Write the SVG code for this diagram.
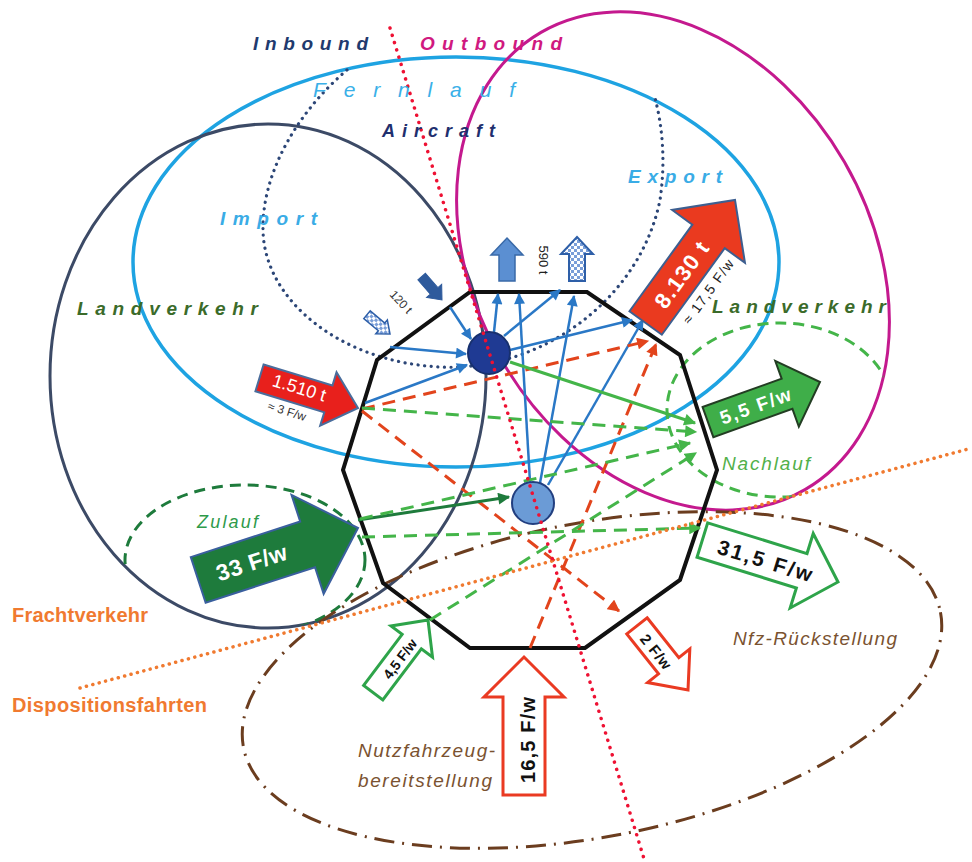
<svg xmlns="http://www.w3.org/2000/svg" width="972" height="862" viewBox="0 0 972 862">
<style>
text{font-family:"Liberation Sans",Arial,sans-serif}
.lbl{font-weight:bold;font-style:italic}
.it{font-style:italic}
.ctr{text-anchor:middle;dominant-baseline:central}
.blue{stroke:#2a78c6;stroke-width:2.5;fill:none;marker-end:url(#mb)}
.rd{stroke:#e2441c;stroke-width:3;stroke-dasharray:13 8;fill:none;marker-end:url(#mr)}
.gd{stroke:#44b549;stroke-width:3;stroke-dasharray:13 8;fill:none;marker-end:url(#mg)}
.el{fill:none}
</style>
<defs>
<marker id="mb" viewBox="0 0 10 10" refX="9" refY="5" markerWidth="12" markerHeight="11" markerUnits="userSpaceOnUse" orient="auto"><path d="M0,0L10,5L0,10z" fill="#2a78c6"/></marker>
<marker id="mr" viewBox="0 0 10 10" refX="9" refY="5" markerWidth="13" markerHeight="12" markerUnits="userSpaceOnUse" orient="auto"><path d="M0,0L10,5L0,10z" fill="#e2441c"/></marker>
<marker id="mg" viewBox="0 0 10 10" refX="9" refY="5" markerWidth="13" markerHeight="12" markerUnits="userSpaceOnUse" orient="auto"><path d="M0,0L10,5L0,10z" fill="#44b549"/></marker>
<marker id="mdg" viewBox="0 0 10 10" refX="9" refY="5" markerWidth="13" markerHeight="12" markerUnits="userSpaceOnUse" orient="auto"><path d="M0,0L10,5L0,10z" fill="#1e7b3c"/></marker>
<pattern id="chk" width="6" height="6" patternUnits="userSpaceOnUse"><rect width="6" height="6" fill="#fff"/><rect width="3" height="3" fill="#7a9ed8"/><rect x="3" y="3" width="3" height="3" fill="#7a9ed8"/></pattern>
<clipPath id="cLand"><ellipse cx="268" cy="376" rx="218" ry="252"/></clipPath>
<clipPath id="cMag"><ellipse cx="673" cy="261" rx="198" ry="264" transform="rotate(-30 673 261)"/></clipPath>
</defs>

<g id="regions">
<ellipse id="fernlauf" class="el" cx="456" cy="262" rx="323" ry="205" stroke="#1ea3e2" stroke-width="3.5"/>
<ellipse id="landverkehr-left" class="el" cx="268" cy="376" rx="218" ry="252" stroke="#3c4a66" stroke-width="3"/>
<ellipse id="outbound" class="el" cx="673" cy="261" rx="198" ry="264" transform="rotate(-30 673 261)" stroke="#c4198e" stroke-width="3"/>
<path id="aircraft" class="el" d="M347,70 C300,110 262,170 263,230 C264,300 340,362 440,367 C540,372 640,300 660,200 C666,160 662,125 655,98" stroke="#2c4677" stroke-width="3.2" stroke-dasharray="0.1 6.5" stroke-linecap="round"/>
<ellipse id="zulauf" class="el" cx="245" cy="560" rx="120" ry="75" clip-path="url(#cLand)" stroke="#1e7b3c" stroke-width="3" stroke-dasharray="11 7"/>
<ellipse id="nachlauf" class="el" cx="780" cy="410" rx="113" ry="87" clip-path="url(#cMag)" stroke="#44b549" stroke-width="3" stroke-dasharray="11 7"/>
<ellipse id="nfz" class="el" cx="592" cy="680" rx="355" ry="157" transform="rotate(-11 592 680)" stroke="#6b3d1f" stroke-width="3" stroke-dasharray="20 8 2 8"/>
</g>

<g id="terminal">
<polygon points="470,292 587,292 680,355 717,470 680,580 585,648 470,648 383,583 343,470 377,360" fill="none" stroke="#111" stroke-width="4" stroke-linejoin="miter"/>
</g>

<g id="connectors">
<path class="blue" d="M450,307 L471,339"/>
<path class="blue" d="M390,347 L466,354"/>
<path class="blue" d="M365,403 L467,365"/>
<path class="blue" d="M494,332 L498,294"/>
<path class="blue" d="M504,336 L560,290"/>
<path class="blue" d="M510,350 L632,320"/>
<path class="blue" d="M530,482 L519,294"/>
<path class="blue" d="M540,483 L574,296"/>
<path class="blue" d="M548,485 L643,320"/>
<path class="rd" d="M362,409 L648,341"/>
<path class="rd" d="M362,411 L619,611"/>
<path class="rd" d="M530,648 L656,344"/>
<path d="M510,362 L695,423" stroke="#44b549" stroke-width="3" fill="none" marker-end="url(#mg)"/>
<path d="M358,520 L509,497" stroke="#1e7b3c" stroke-width="3" fill="none" marker-end="url(#mdg)"/>
<path class="gd" d="M362,408 L696,432"/>
<path class="gd" d="M360,519 L690,443"/>
<path class="gd" d="M430,620 L696,453"/>
<path class="gd" d="M362,537 L700,528"/>
</g>

<g id="node-aircraft-hub"><circle cx="489" cy="353" r="21" fill="#1f3a93" stroke="#17306e" stroke-width="2"/></g>
<g id="node-truck-hub"><circle cx="533" cy="503" r="21" fill="#6b9bd6" stroke="#223f80" stroke-width="2"/></g>

<g id="boundaries">
<line x1="80" y1="688" x2="972" y2="448" stroke="#f07a30" stroke-width="3.5" stroke-dasharray="0.1 6.5" stroke-linecap="round"/>
<line x1="390" y1="28" x2="645" y2="862" stroke="#ee1133" stroke-width="3.5" stroke-dasharray="0.1 7.5" stroke-linecap="round"/>
</g>

<g id="arrow-1510" transform="translate(358,408) rotate(17)">
<polygon points="-103,-14 -31,-14 -31,-28 0,0 -31,28 -31,14 -103,14" fill="#e8201c" stroke="#4a6d9c" stroke-width="2"/>
<text class="ctr" x="-62" y="-2" font-size="18" fill="#fff">1.510 t</text>
<text class="ctr" x="-67" y="24" font-size="12" fill="#333">≈ 3 F/w</text>
</g>
<g id="arrow-8130" transform="translate(735,200) rotate(-54)">
<polygon points="-152,-20 -45,-20 -45,-45 0,0 -45,45 -45,20 -152,20" fill="#ea3a1f" stroke="#3d5f90" stroke-width="2"/>
<text class="ctr" x="-92" y="1" font-size="22" font-weight="bold" fill="#fff" textLength="76">8.130 t</text>
<text class="ctr" x="-90" y="32" font-size="14" fill="#222" textLength="76">≈ 17,5 F/w</text>
</g>
<g id="arrow-55" transform="translate(820,382) rotate(-19.7)">
<polygon points="-119,-16 -35,-16 -35,-35 0,0 -35,35 -35,16 -119,16" fill="#3fae49" stroke="#233d23" stroke-width="2"/>
<text class="ctr" x="-69" y="1" font-size="19" font-weight="bold" fill="#fff" textLength="74">5,5 F/w</text>
</g>
<g id="arrow-33" transform="translate(358,528) rotate(-18)">
<polygon points="-168,-24 -53,-24 -53,-52 0,0 -53,52 -53,24 -168,24" fill="#1e7b3c" stroke="#3a5f9e" stroke-width="2"/>
<text class="ctr" x="-112" y="0" font-size="23" font-weight="bold" fill="#fff" textLength="73">33 F/w</text>
</g>
<g id="arrow-315" transform="translate(838,582) rotate(17.2)">
<polygon points="-142,-18 -38,-18 -38,-39 0,0 -38,39 -38,18 -142,18" fill="#fff" stroke="#2ea44a" stroke-width="3"/>
<text class="ctr" x="-76" y="1" font-size="21" font-weight="bold" fill="#111" textLength="98">31,5 F/w</text>
</g>
<g id="arrow-2" transform="translate(688,690) rotate(51.5)">
<polygon points="-82,-13 -31,-13 -31,-27 0,0 -31,27 -31,13 -82,13" fill="#fff" stroke="#ea3a22" stroke-width="3"/>
<text class="ctr" x="-50" y="1" font-size="15" font-weight="bold" fill="#111" textLength="40">2 F/w</text>
</g>
<g id="arrow-45" transform="translate(428,620) rotate(-53)">
<polygon points="-91,-12 -27,-12 -27,-26 0,0 -27,26 -27,12 -91,12" fill="#fff" stroke="#2ea44a" stroke-width="3"/>
<text class="ctr" x="-48" y="1" font-size="14" font-weight="bold" fill="#111" textLength="46">4,5 F/w</text>
</g>
<g id="arrow-165" transform="translate(524,657) rotate(-90)">
<polygon points="-138,-21 -40,-21 -40,-40 0,0 -40,40 -40,21 -138,21" fill="#fff" stroke="#ea3a22" stroke-width="3"/>
<text class="ctr" x="-83" y="4" font-size="20" font-weight="bold" fill="#111" textLength="86">16,5 F/w</text>
</g>
<g id="arrow-up-solid" transform="translate(507,238) rotate(-90)">
<polygon points="-43,-8 -17,-8 -17,-16 0,0 -17,16 -17,8 -43,8" fill="#5b8fd2" stroke="#3a6aa8" stroke-width="1.5"/>
</g>
<g id="arrow-up-chk" transform="translate(577,237) rotate(-90)">
<polygon points="-44,-8 -17,-8 -17,-16 0,0 -17,16 -17,8 -44,8" fill="url(#chk)" stroke="#2e5fa8" stroke-width="2"/>
</g>
<g id="arrow-in-solid" transform="translate(442,300) rotate(49)">
<polygon points="-31,-5 -12,-5 -12,-10 0,0 -12,10 -12,5 -31,5" fill="#2e5a9c" stroke="#2e5a9c" stroke-width="1"/>
</g>
<g id="arrow-in-chk" transform="translate(390,334) rotate(40)">
<polygon points="-30,-5 -11,-5 -11,-9 0,0 -11,9 -11,5 -30,5" fill="url(#chk)" stroke="#2e5fa8" stroke-width="1.5"/>
</g>
<text class="ctr" transform="translate(401,302) rotate(47)" font-size="12" fill="#333">120 t</text>
<text class="ctr" transform="translate(543,260) rotate(90)" font-size="13" fill="#222">590 t</text>

<g id="labels">
<text class="lbl" x="253" y="50" font-size="19" fill="#1f3a6e" textLength="115">Inbound</text>
<text class="lbl" x="420" y="50" font-size="19" fill="#d0197f" textLength="142">Outbound</text>
<text class="it" x="313" y="97" font-size="21" fill="#3ab0e8" textLength="202">Fernlauf</text>
<text class="lbl" x="382" y="137" font-size="18" fill="#1f2f6e" textLength="113">Aircraft</text>
<text class="lbl" x="220" y="225" font-size="19" fill="#3aace6" textLength="97">Import</text>
<text class="lbl" x="628" y="183" font-size="19" fill="#3aace6" textLength="94">Export</text>
<text class="lbl" x="77" y="315" font-size="19" fill="#3b6b2a" textLength="181">Landverkehr</text>
<text class="lbl" x="712" y="313" font-size="19" fill="#3b6b2a" textLength="174">Landverkehr</text>
<text class="it" x="722" y="470" font-size="19" fill="#52b04a" textLength="88">Nachlauf</text>
<text class="it" x="197" y="528" font-size="18" fill="#2e9a4a" textLength="61">Zulauf</text>
<text x="12" y="622" font-size="20" font-weight="bold" fill="#f07a30" textLength="136">Frachtverkehr</text>
<text x="12" y="712" font-size="20" font-weight="bold" fill="#f07a30" textLength="195">Dispositionsfahrten</text>
<text class="it" x="733" y="645" font-size="19" fill="#7a5230" textLength="164">Nfz-Rückstellung</text>
<text class="it" x="358" y="757" font-size="19" fill="#7a5230" textLength="137">Nutzfahrzeug-</text>
<text class="it" x="358" y="787" font-size="19" fill="#7a5230" textLength="134">bereitstellung</text>
</g>
</svg>
